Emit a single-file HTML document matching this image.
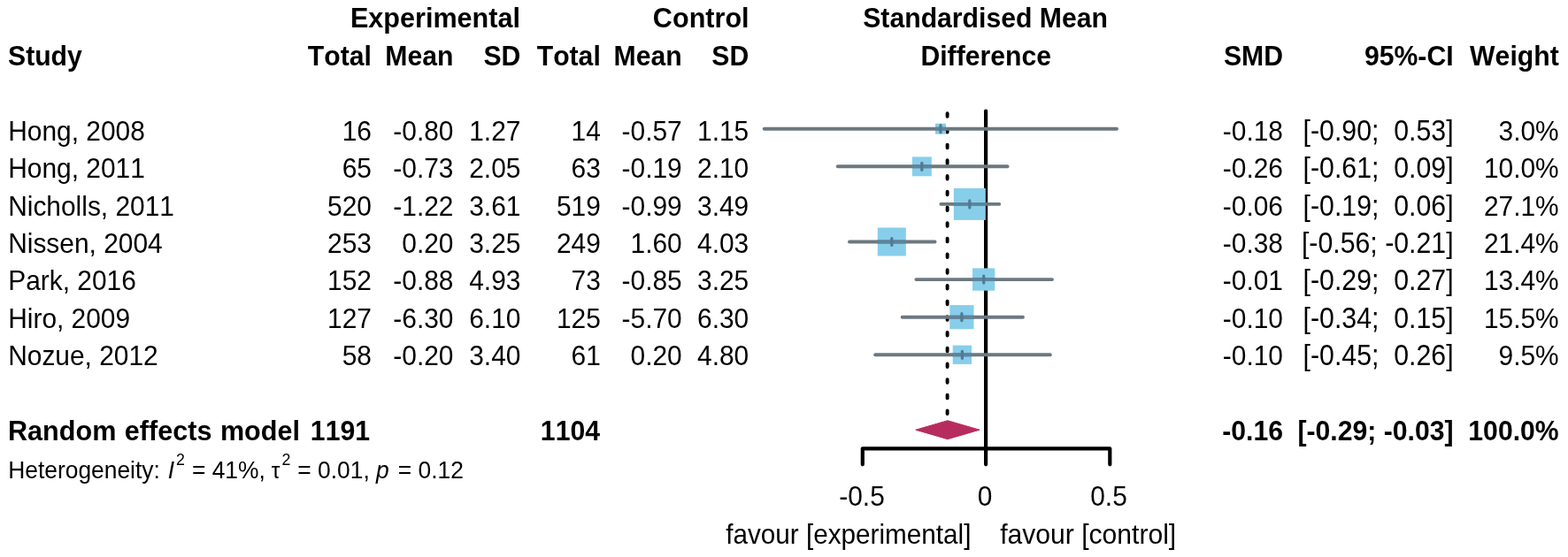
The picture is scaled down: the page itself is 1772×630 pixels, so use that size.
<!DOCTYPE html>
<html lang="en">
<head>
<meta charset="utf-8">
<title>Forest plot</title>
<style>
html,body{margin:0;padding:0;background:#fff;}
body{width:1772px;height:630px;overflow:hidden;}
svg{display:block;}
text{font-family:"Liberation Sans",Arial,Helvetica,sans-serif;font-size:29.9px;fill:#000;white-space:pre;font-kerning:none;font-variant-ligatures:none;}
.b{font-weight:bold;font-size:30.2px;}
.w{word-spacing:1px;}
.e{text-anchor:end;}
.m{text-anchor:middle;}
.s{font-size:26.4px;}
.u{font-size:17.8px;}
.t{font-size:24.5px;}
.i{font-style:italic;}
.c{font-size:30.3px;}
.f{font-size:29.7px;}
</style>
</head>
<body>
<svg width="1772" height="630" viewBox="0 0 1772 630">
<rect x="0" y="0" width="1772" height="630" fill="#fff"/>
<text transform="translate(588 31.4) scale(1 1.025)" class="b e" style="font-size:30.6px;" xml:space="preserve">Experimental</text>
<text transform="translate(846.6 31.4) scale(1 1.025)" class="b e" style="font-size:30.6px;" xml:space="preserve">Control</text>
<text transform="translate(1113.6 31.4) scale(1 1.025)" class="b m" style="font-size:30.2px;" xml:space="preserve">Standardised Mean</text>
<text transform="translate(1114.2 73.5) scale(1 1.025)" class="b m" style="font-size:30.2px;" xml:space="preserve">Difference</text>
<text transform="translate(9 73.5) scale(1 1.025)" class="b" xml:space="preserve">Study</text>
<text transform="translate(419.9 73.5) scale(1 1.025)" class="b e" xml:space="preserve">Total</text>
<text transform="translate(512.5 73.5) scale(1 1.025)" class="b e" xml:space="preserve">Mean</text>
<text transform="translate(588.4 73.5) scale(1 1.025)" class="b e" xml:space="preserve">SD</text>
<text transform="translate(678.8 73.5) scale(1 1.025)" class="b e" xml:space="preserve">Total</text>
<text transform="translate(770.7 73.5) scale(1 1.025)" class="b e" xml:space="preserve">Mean</text>
<text transform="translate(846.2 73.5) scale(1 1.025)" class="b e" xml:space="preserve">SD</text>
<text transform="translate(1450 73.5) scale(1 1.025)" class="b e" xml:space="preserve">SMD</text>
<text transform="translate(1642.6 73.5) scale(1 1.025)" class="b e" xml:space="preserve">95%-CI</text>
<text transform="translate(1761.7 73.5) scale(1 1.025)" class="b e" xml:space="preserve">Weight</text>
<line x1="1070.6" y1="128.2" x2="1070.6" y2="470" stroke="#000" stroke-width="3.9" stroke-linecap="round" stroke-dasharray="3.6 14.1"/>
<line x1="1114.1" y1="125.5" x2="1114.1" y2="507" stroke="#000" stroke-width="4.2" stroke-linecap="round"/>
<rect x="1057.0" y="139.7" width="12.0" height="12.0" fill="#87CEEB"/>
<rect x="1030.9" y="177.4" width="21.9" height="21.9" fill="#87CEEB"/>
<rect x="1077.8" y="212.9" width="36.0" height="36.0" fill="#87CEEB"/>
<rect x="991.8" y="257.5" width="32.0" height="32.0" fill="#87CEEB"/>
<rect x="1099.0" y="303.4" width="25.3" height="25.3" fill="#87CEEB"/>
<rect x="1073.3" y="345.1" width="27.2" height="27.2" fill="#87CEEB"/>
<rect x="1076.7" y="390.6" width="21.3" height="21.3" fill="#87CEEB"/>
<line x1="863.7" y1="145.7" x2="1262.0" y2="145.7" stroke="#6c7880" stroke-width="3.9" stroke-linecap="round"/>
<line x1="1057.0" y1="145.7" x2="1069.0" y2="145.7" stroke="#5d849c" stroke-width="3.9"/>
<line x1="1063.0" y1="141.7" x2="1063.0" y2="149.7" stroke="#527a92" stroke-width="3.2" stroke-linecap="round"/>
<line x1="946.8" y1="188.3" x2="1138.5" y2="188.3" stroke="#6c7880" stroke-width="3.9" stroke-linecap="round"/>
<line x1="1030.9" y1="188.3" x2="1052.7" y2="188.3" stroke="#5d849c" stroke-width="3.9"/>
<line x1="1041.8" y1="184.3" x2="1041.8" y2="192.3" stroke="#527a92" stroke-width="3.2" stroke-linecap="round"/>
<line x1="1063.4" y1="230.9" x2="1129.2" y2="230.9" stroke="#6c7880" stroke-width="3.9" stroke-linecap="round"/>
<line x1="1077.8" y1="230.9" x2="1113.8" y2="230.9" stroke="#5d849c" stroke-width="3.9"/>
<line x1="1095.8" y1="226.9" x2="1095.8" y2="234.9" stroke="#527a92" stroke-width="3.2" stroke-linecap="round"/>
<line x1="960.0" y1="273.5" x2="1056.5" y2="273.5" stroke="#6c7880" stroke-width="3.9" stroke-linecap="round"/>
<line x1="991.8" y1="273.5" x2="1023.8" y2="273.5" stroke="#5d849c" stroke-width="3.9"/>
<line x1="1007.8" y1="269.5" x2="1007.8" y2="277.5" stroke="#527a92" stroke-width="3.2" stroke-linecap="round"/>
<line x1="1035.4" y1="316.1" x2="1189.0" y2="316.1" stroke="#6c7880" stroke-width="3.9" stroke-linecap="round"/>
<line x1="1099.0" y1="316.1" x2="1124.4" y2="316.1" stroke="#5d849c" stroke-width="3.9"/>
<line x1="1111.7" y1="312.1" x2="1111.7" y2="320.1" stroke="#527a92" stroke-width="3.2" stroke-linecap="round"/>
<line x1="1019.7" y1="358.7" x2="1156.0" y2="358.7" stroke="#6c7880" stroke-width="3.9" stroke-linecap="round"/>
<line x1="1073.3" y1="358.7" x2="1100.5" y2="358.7" stroke="#5d849c" stroke-width="3.9"/>
<line x1="1086.9" y1="354.7" x2="1086.9" y2="362.7" stroke="#527a92" stroke-width="3.2" stroke-linecap="round"/>
<line x1="989.2" y1="401.3" x2="1186.8" y2="401.3" stroke="#6c7880" stroke-width="3.9" stroke-linecap="round"/>
<line x1="1076.7" y1="401.3" x2="1098.1" y2="401.3" stroke="#5d849c" stroke-width="3.9"/>
<line x1="1087.4" y1="397.3" x2="1087.4" y2="405.3" stroke="#527a92" stroke-width="3.2" stroke-linecap="round"/>
<path d="M974.8 525.3V507.3H1254.3V525.3M1114.1 507.3V525.3" fill="none" stroke="#000" stroke-width="4.2" stroke-linecap="round" stroke-linejoin="round"/>
<polygon points="1034.8,486.2 1070.9,475.7 1107,486.2 1070.9,496.7" fill="#B72C5E" stroke="#B72C5E" stroke-width="1" stroke-linejoin="round"/>
<text transform="translate(9.2 158.9) scale(1 1.07)" xml:space="preserve">Hong, 2008</text>
<text transform="translate(419.9 158.9) scale(1 1.07)" class="e" xml:space="preserve">16</text>
<text transform="translate(512.5 158.9) scale(1 1.07)" class="e" xml:space="preserve">-0.80</text>
<text transform="translate(588.4 158.9) scale(1 1.07)" class="e" xml:space="preserve">1.27</text>
<text transform="translate(678.8 158.9) scale(1 1.07)" class="e" xml:space="preserve">14</text>
<text transform="translate(770.7 158.9) scale(1 1.07)" class="e" xml:space="preserve">-0.57</text>
<text transform="translate(846.2 158.9) scale(1 1.07)" class="e" xml:space="preserve">1.15</text>
<text transform="translate(1450 158.9) scale(1 1.07)" class="e" xml:space="preserve">-0.18</text>
<text transform="translate(1642.6 158.9) scale(1 1.07)" class="e c" xml:space="preserve">[-0.90;  0.53]</text>
<text transform="translate(1761.7 158.9) scale(1 1.07)" class="e" xml:space="preserve">3.0%</text>
<text transform="translate(9.2 200.9) scale(1 1.07)" xml:space="preserve">Hong, 2011</text>
<text transform="translate(419.9 200.9) scale(1 1.07)" class="e" xml:space="preserve">65</text>
<text transform="translate(512.5 200.9) scale(1 1.07)" class="e" xml:space="preserve">-0.73</text>
<text transform="translate(588.4 200.9) scale(1 1.07)" class="e" xml:space="preserve">2.05</text>
<text transform="translate(678.8 200.9) scale(1 1.07)" class="e" xml:space="preserve">63</text>
<text transform="translate(770.7 200.9) scale(1 1.07)" class="e" xml:space="preserve">-0.19</text>
<text transform="translate(846.2 200.9) scale(1 1.07)" class="e" xml:space="preserve">2.10</text>
<text transform="translate(1450 200.9) scale(1 1.07)" class="e" xml:space="preserve">-0.26</text>
<text transform="translate(1642.6 200.9) scale(1 1.07)" class="e c" xml:space="preserve">[-0.61;  0.09]</text>
<text transform="translate(1761.7 200.9) scale(1 1.07)" class="e" xml:space="preserve">10.0%</text>
<text transform="translate(9.2 243.8) scale(1 1.07)" xml:space="preserve">Nicholls, 2011</text>
<text transform="translate(419.9 243.8) scale(1 1.07)" class="e" xml:space="preserve">520</text>
<text transform="translate(512.5 243.8) scale(1 1.07)" class="e" xml:space="preserve">-1.22</text>
<text transform="translate(588.4 243.8) scale(1 1.07)" class="e" xml:space="preserve">3.61</text>
<text transform="translate(678.8 243.8) scale(1 1.07)" class="e" xml:space="preserve">519</text>
<text transform="translate(770.7 243.8) scale(1 1.07)" class="e" xml:space="preserve">-0.99</text>
<text transform="translate(846.2 243.8) scale(1 1.07)" class="e" xml:space="preserve">3.49</text>
<text transform="translate(1450 243.8) scale(1 1.07)" class="e" xml:space="preserve">-0.06</text>
<text transform="translate(1642.6 243.8) scale(1 1.07)" class="e c" xml:space="preserve">[-0.19;  0.06]</text>
<text transform="translate(1761.7 243.8) scale(1 1.07)" class="e" xml:space="preserve">27.1%</text>
<text transform="translate(9.2 285.5) scale(1 1.07)" xml:space="preserve">Nissen, 2004</text>
<text transform="translate(419.9 285.5) scale(1 1.07)" class="e" xml:space="preserve">253</text>
<text transform="translate(512.5 285.5) scale(1 1.07)" class="e" xml:space="preserve">0.20</text>
<text transform="translate(588.4 285.5) scale(1 1.07)" class="e" xml:space="preserve">3.25</text>
<text transform="translate(678.8 285.5) scale(1 1.07)" class="e" xml:space="preserve">249</text>
<text transform="translate(770.7 285.5) scale(1 1.07)" class="e" xml:space="preserve">1.60</text>
<text transform="translate(846.2 285.5) scale(1 1.07)" class="e" xml:space="preserve">4.03</text>
<text transform="translate(1450 285.5) scale(1 1.07)" class="e" xml:space="preserve">-0.38</text>
<text transform="translate(1642.6 285.5) scale(1 1.07)" class="e c" xml:space="preserve">[-0.56; -0.21]</text>
<text transform="translate(1761.7 285.5) scale(1 1.07)" class="e" xml:space="preserve">21.4%</text>
<text transform="translate(9.2 327.7) scale(1 1.07)" xml:space="preserve">Park, 2016</text>
<text transform="translate(419.9 327.7) scale(1 1.07)" class="e" xml:space="preserve">152</text>
<text transform="translate(512.5 327.7) scale(1 1.07)" class="e" xml:space="preserve">-0.88</text>
<text transform="translate(588.4 327.7) scale(1 1.07)" class="e" xml:space="preserve">4.93</text>
<text transform="translate(678.8 327.7) scale(1 1.07)" class="e" xml:space="preserve">73</text>
<text transform="translate(770.7 327.7) scale(1 1.07)" class="e" xml:space="preserve">-0.85</text>
<text transform="translate(846.2 327.7) scale(1 1.07)" class="e" xml:space="preserve">3.25</text>
<text transform="translate(1450 327.7) scale(1 1.07)" class="e" xml:space="preserve">-0.01</text>
<text transform="translate(1642.6 327.7) scale(1 1.07)" class="e c" xml:space="preserve">[-0.29;  0.27]</text>
<text transform="translate(1761.7 327.7) scale(1 1.07)" class="e" xml:space="preserve">13.4%</text>
<text transform="translate(9.2 371.0) scale(1 1.07)" xml:space="preserve">Hiro, 2009</text>
<text transform="translate(419.9 371.0) scale(1 1.07)" class="e" xml:space="preserve">127</text>
<text transform="translate(512.5 371.0) scale(1 1.07)" class="e" xml:space="preserve">-6.30</text>
<text transform="translate(588.4 371.0) scale(1 1.07)" class="e" xml:space="preserve">6.10</text>
<text transform="translate(678.8 371.0) scale(1 1.07)" class="e" xml:space="preserve">125</text>
<text transform="translate(770.7 371.0) scale(1 1.07)" class="e" xml:space="preserve">-5.70</text>
<text transform="translate(846.2 371.0) scale(1 1.07)" class="e" xml:space="preserve">6.30</text>
<text transform="translate(1450 371.0) scale(1 1.07)" class="e" xml:space="preserve">-0.10</text>
<text transform="translate(1642.6 371.0) scale(1 1.07)" class="e c" xml:space="preserve">[-0.34;  0.15]</text>
<text transform="translate(1761.7 371.0) scale(1 1.07)" class="e" xml:space="preserve">15.5%</text>
<text transform="translate(9.2 412.7) scale(1 1.07)" xml:space="preserve">Nozue, 2012</text>
<text transform="translate(419.9 412.7) scale(1 1.07)" class="e" xml:space="preserve">58</text>
<text transform="translate(512.5 412.7) scale(1 1.07)" class="e" xml:space="preserve">-0.20</text>
<text transform="translate(588.4 412.7) scale(1 1.07)" class="e" xml:space="preserve">3.40</text>
<text transform="translate(678.8 412.7) scale(1 1.07)" class="e" xml:space="preserve">61</text>
<text transform="translate(770.7 412.7) scale(1 1.07)" class="e" xml:space="preserve">0.20</text>
<text transform="translate(846.2 412.7) scale(1 1.07)" class="e" xml:space="preserve">4.80</text>
<text transform="translate(1450 412.7) scale(1 1.07)" class="e" xml:space="preserve">-0.10</text>
<text transform="translate(1642.6 412.7) scale(1 1.07)" class="e c" xml:space="preserve">[-0.45;  0.26]</text>
<text transform="translate(1761.7 412.7) scale(1 1.07)" class="e" xml:space="preserve">9.5%</text>
<text transform="translate(9 497.8) scale(1 1.025)" class="b w" style="font-size:30.6px;" xml:space="preserve">Random effects model</text>
<text transform="translate(418 497.8) scale(1 1.025)" class="b e" xml:space="preserve">1191</text>
<text transform="translate(678 497.8) scale(1 1.025)" class="b e" xml:space="preserve">1104</text>
<text transform="translate(1450 497.8) scale(1 1.025)" class="b e" xml:space="preserve">-0.16</text>
<text transform="translate(1642.6 497.8) scale(1 1.025)" class="b e" xml:space="preserve">[-0.29; -0.03]</text>
<text transform="translate(1761.7 497.8) scale(1 1.025)" class="b e" xml:space="preserve">100.0%</text>
<text transform="translate(0 540.8) scale(1 1.07)" class="s" xml:space="preserve"><tspan x="9.2" y="0">Heterogeneity: </tspan><tspan x="189.7" y="0" class="i">I</tspan><tspan x="199.1" y="-14.1" class="u">2</tspan><tspan x="209.6" y="0"> = 41%, </tspan><tspan x="306.8" y="0" class="t">τ</tspan><tspan x="318.6" y="-14.1" class="u">2</tspan><tspan x="329" y="0"> = 0.01, </tspan><tspan class="i">p</tspan><tspan x="442.5" y="0"> = 0.12</tspan></text>
<text transform="translate(974 572.4) scale(1 1.07)" class="m" xml:space="preserve">-0.5</text>
<text transform="translate(1113 572.4) scale(1 1.07)" class="m" xml:space="preserve">0</text>
<text transform="translate(1253 572.4) scale(1 1.07)" class="m" xml:space="preserve">0.5</text>
<text transform="translate(1097.4 615.2) scale(1 1.07)" class="e f" xml:space="preserve">favour [experimental]</text>
<text transform="translate(1130.2 615.2) scale(1 1.07)" style="font-size:30.1px;" xml:space="preserve">favour [control]</text>
</svg>
</body>
</html>
